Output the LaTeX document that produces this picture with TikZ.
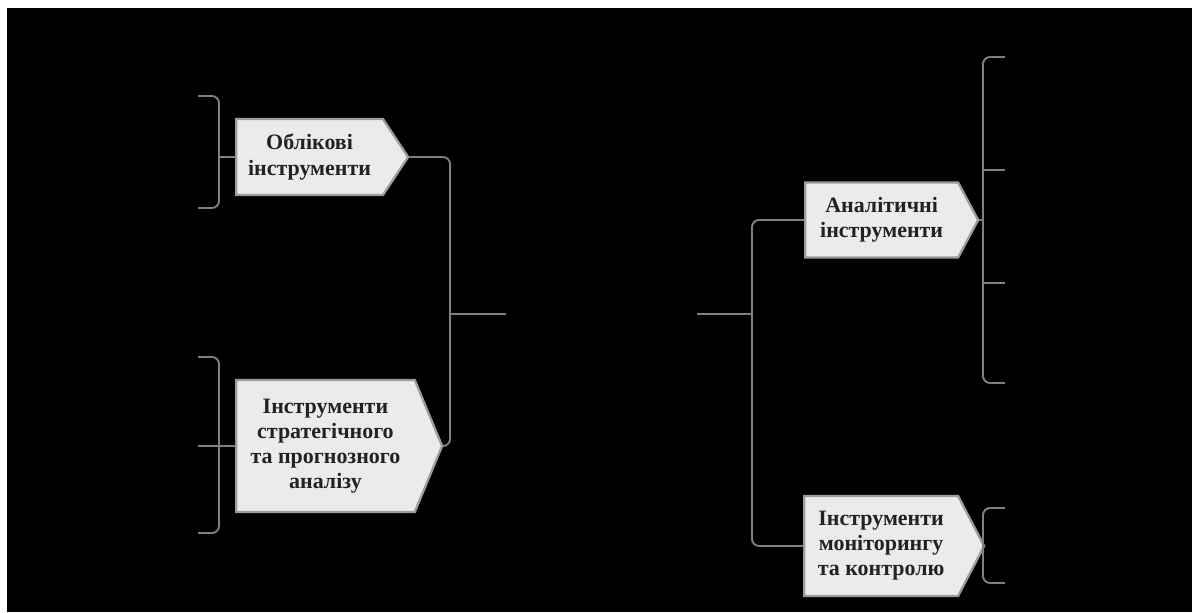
\documentclass[tikz,border=0pt]{standalone}
\usepackage{fontspec}
\setmainfont{Liberation Serif}
\usetikzlibrary{shapes.symbols}
\definecolor{toolfill}{HTML}{EBEBEB}
\definecolor{toolline}{HTML}{9C9C9C}
\definecolor{toolink}{HTML}{222222}
\definecolor{linkgrey}{HTML}{808080}
\tikzset{
  tool/.style={signal, signal to=east, draw=toolline, fill=toolfill, line width=1.3pt,
    inner sep=0pt, align=center, text=toolink, anchor=west,
    font=\fontsize{12.5}{14.3}\selectfont\bfseries},
  link/.style={draw=linkgrey, line width=1.1pt, rounded corners=4pt}
}
\begin{document}
\begin{tikzpicture}[x=0.02cm,y=-0.02cm]

                \useasboundingbox (0,0) rectangle (1192,612);
                \fill[white] (0,0) rectangle (1192,612);
                \fill[black] (7,8) rectangle (1192,612);

                \node[tool, minimum width=3.44cm, minimum height=1.52cm, signal pointer angle=113] (oblik) at (235,157) {Облікові\\інструменти};
                \node[tool, minimum width=4.12cm, minimum height=2.64cm, signal pointer angle=135] (strat) at (235,446) {Інструменти\\стратегічного\\та прогнозного\\аналізу};
                \node[tool, minimum width=3.46cm, minimum height=1.50cm, signal pointer angle=124] (anal) at (804,220) {Аналітичні\\інструменти};
                \node[tool, minimum width=3.60cm, minimum height=2.00cm, signal pointer angle=125] (monit) at (803,546) {Інструменти\\моніторингу\\та контролю};

                \coordinate (hubL) at (450,314);
                \coordinate (endL) at (506,314);
                \coordinate (hubR) at (752,314);
                \coordinate (endR) at (697,314);

                \draw[link] (oblik.east) -- (hubL |- oblik.east) -- (hubL |- strat.east) -- (strat.east);
                \draw[link] (hubL) -- (endL);
                \draw[link] (anal.west) -- (hubR |- anal.west) -- (hubR |- monit.west) -- (monit.west);
                \draw[link] (endR) -- (hubR);

                \draw[link] (198,96) -- (219,96) -- (219,208) -- (198,208);
                \draw[link] (219,157) -- (oblik.west);
                \draw[link] (198,357) -- (219,357) -- (219,533) -- (198,533);
                \draw[link] (198,446) -- (strat.west);

                \draw[link] (1005,57) -- (983,57) -- (983,383) -- (1005,383);
                \draw[link] (983,170) -- (1005,170);
                \draw[link] (983,283) -- (1005,283);
                \draw[link] (anal.east) -- (983,220);
                \draw[link] (1005,508) -- (983,508) -- (983,583) -- (1005,583);
                \draw[link] (monit.east) -- (983,546);
            \end{tikzpicture}
\end{document}
